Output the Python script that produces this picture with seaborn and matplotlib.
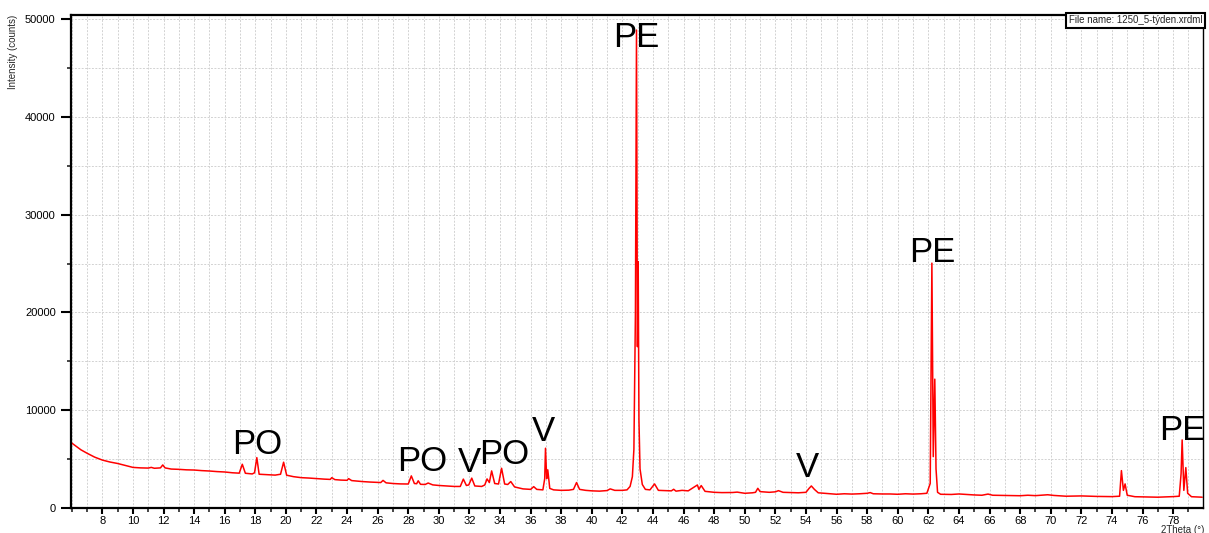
import matplotlib
matplotlib.use("Agg")
import matplotlib.pyplot as plt
from matplotlib.ticker import MultipleLocator
import seaborn as sns
import pandas as pd

# traced diffractogram (2Theta in degrees, intensity in counts)
two_theta = [
    5.95, 6.3, 6.6, 7.0, 7.5, 8.0, 8.5, 9.0, 9.5, 10.0, 10.5, 11.0, 11.2, 11.4, 11.8, 11.95, 12.1,
    12.5, 13.0, 13.5, 14.0, 14.5, 15.0, 15.5, 16.0, 16.5, 16.95, 17.15, 17.35, 17.8, 17.95, 18.1,
    18.25, 18.8, 19.3, 19.65, 19.85, 20.05, 20.5, 21.0, 21.5, 22.0, 22.5, 22.9, 23.0, 23.2, 23.6,
    24.0, 24.1, 24.3, 25.0, 25.5, 26.2, 26.35, 26.55, 27.0, 27.5, 28.0, 28.2, 28.4, 28.55, 28.65,
    28.8, 29.1, 29.3, 29.6, 30.0, 30.5, 31.0, 31.4, 31.6, 31.8, 31.95, 32.15, 32.35, 32.8, 33.0,
    33.15, 33.3, 33.45, 33.65, 33.9, 34.1, 34.3, 34.5, 34.7, 34.95, 35.5, 36.0, 36.2, 36.4, 36.8,
    36.92, 36.97, 37.05, 37.12, 37.25, 37.5, 38.0, 38.5, 38.8, 39.0, 39.2, 39.6, 40.0, 40.5, 41.0,
    41.2, 41.5, 42.0, 42.3, 42.5, 42.65, 42.75, 42.85, 42.92, 42.98, 43.03, 43.08, 43.15, 43.3,
    43.5, 43.8, 44.1, 44.35, 44.8, 45.2, 45.35, 45.5, 45.9, 46.3, 46.9, 47.0, 47.15, 47.4, 48.0,
    48.5, 49.2, 49.5, 50.0, 50.5, 50.7, 50.85, 51.0, 51.6, 52.0, 52.2, 52.5, 53.0, 53.5, 54.0,
    54.2, 54.35, 54.55, 54.8, 55.2, 56.0, 56.5, 57.0, 57.5, 58.0, 58.2, 58.4, 59.0, 59.5, 60.0,
    60.5, 61.0, 61.5, 61.9, 62.12, 62.23, 62.32, 62.42, 62.5, 62.6, 62.8, 63.5, 64.0, 65.0, 65.5,
    65.9, 66.2, 67.0, 68.0, 68.5, 69.0, 69.8, 70.2, 71.0, 72.0, 73.0, 74.0, 74.5, 74.62, 74.75,
    74.86, 75.0, 75.5, 76.0, 77.0, 78.0, 78.4, 78.52, 78.59, 78.7, 78.83, 78.95, 79.2, 79.9,
]
counts = [
    6700, 6300, 5950, 5600, 5200, 4900, 4700, 4550, 4350, 4150, 4100, 4080, 4150, 4060, 4100, 4400, 4100,
    3980, 3950, 3900, 3880, 3820, 3780, 3720, 3680, 3600, 3560, 4470, 3550, 3480, 3600, 5150,
    3450, 3400, 3360, 3450, 4680, 3350, 3200, 3100, 3060, 3000, 2950, 2920, 3100, 2900, 2850,
    2830, 3000, 2800, 2700, 2650, 2600, 2820, 2570, 2500, 2460, 2450, 3280, 2500, 2480, 2780,
    2420, 2400, 2550, 2360, 2300, 2250, 2200, 2200, 2950, 2300, 2350, 3050, 2250, 2200, 2350,
    2970, 2600, 3790, 2500, 2450, 4060, 2450, 2400, 2700, 2150, 1950, 1900, 2180, 1900, 1850,
    3000, 6110, 3000, 3900, 2000, 1850, 1800, 1820, 1900, 2600, 1900, 1800, 1750, 1720, 1780,
    1950, 1800, 1800, 1850, 2200, 3200, 6000, 20000, 48900, 16500, 25200, 9000, 4000, 2400,
    1900, 1850, 2460, 1800, 1770, 1750, 1910, 1720, 1800, 1750, 2350, 1900, 2290, 1700, 1600,
    1570, 1580, 1620, 1500, 1550, 1600, 2010, 1670, 1600, 1650, 1770, 1600, 1570, 1550, 1600,
    2000, 2250, 1900, 1550, 1500, 1400, 1450, 1420, 1450, 1500, 1570, 1450, 1430, 1430, 1400,
    1450, 1420, 1450, 1500, 2500, 25050, 5250, 13180, 4000, 1600, 1400, 1380, 1430, 1330, 1300,
    1420, 1300, 1280, 1250, 1300, 1260, 1350, 1280, 1200, 1230, 1180, 1160, 1200, 3820, 1800,
    2460, 1300, 1150, 1130, 1100, 1160, 1200, 3500, 6960, 1800, 4130, 1500, 1150, 1100,
]

# phase labels
label_text = ["PE", "PE", "PE", "PO", "PO", "V", "PO", "V", "V"]
label_x = [42.93, 62.28, 78.57, 18.14, 28.93, 32.0, 34.29, 36.84, 54.1]
label_y = [48150, 26100, 7880, 6450, 4710, 4610, 5430, 7780, 4100]

df = pd.DataFrame({"2Theta": two_theta, "Counts": counts})

sns.set_theme(style="white")
plt.rcParams["font.family"] = ["Liberation Sans", "DejaVu Sans"]

fig = plt.figure(figsize=(12.09, 5.33), dpi=100)
ax = fig.add_axes([0.0587, 0.047, 0.9363, 0.925])

sns.lineplot(data=df, x="2Theta", y="Counts", color="#ff0000", linewidth=1.1, ax=ax)

for t, x, y in zip(label_text, label_x, label_y):
    ax.text(x, y, t, fontsize=25, ha="center", va="center", color="black")

ax.set_xlim(5.95, 79.95)
ax.set_ylim(0, 50450)
ax.xaxis.set_minor_locator(MultipleLocator(1))
ax.yaxis.set_major_locator(MultipleLocator(10000))
ax.yaxis.set_minor_locator(MultipleLocator(5000))
ax.set_xticks([v for v in range(8, 80, 2)])
ax.grid(True, which="both", color="#d2d2d2", linestyle=(0, (2, 1.5)), linewidth=0.7)
ax.tick_params(axis="x", which="major", direction="out", length=4, width=1.5, pad=1.5,
               labelsize=8, colors="black", bottom=True)
ax.tick_params(axis="y", which="major", direction="out", length=7, width=1.5, pad=4,
               labelsize=8, colors="black", left=True)
ax.tick_params(axis="both", which="minor", direction="out", length=3, width=1.2,
               left=True, bottom=True)
for side in ["left", "bottom", "top", "right"]:
    ax.spines[side].set_color("black")
    ax.spines[side].set_linewidth(1.6)
ax.spines["right"].set_linewidth(1.0)

ax.set_xlabel("")
ax.set_ylabel("")
fig.text(0.011, 0.972, "Intensity (counts)", rotation=90, fontsize=7, ha="center", va="top")
fig.text(0.996, -0.004, "2Theta (°)", fontsize=7, ha="right", va="bottom")
ax.text(0.9995, 0.9995, "File name: 1250_5-týden.xrdml", transform=ax.transAxes,
        fontsize=7, ha="right", va="top",
        bbox=dict(facecolor="white", edgecolor="black", linewidth=1.5, boxstyle="square,pad=0.25"))

fig.savefig("out.png", dpi=100)
